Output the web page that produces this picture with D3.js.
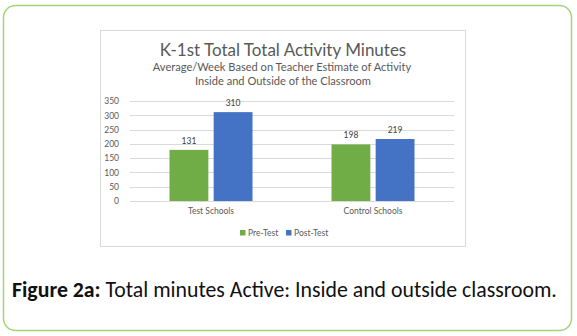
<!DOCTYPE html>
<html><head><meta charset="utf-8">
<script src="https://cdn.jsdelivr.net/npm/d3@7"></script>
<style>body{margin:0;background:#fff}svg{display:block}</style>
</head><body><svg id="c" width="577" height="336"></svg>
<script>
const categories = ["Test Schools", "Control Schools"];
const seriesNames = ["Pre-Test", "Post-Test"];
const preTest = [179, 198];
const postTest = [311, 217];
const preLabels = ["131", "198"];
const postLabels = ["310", "219"];
const yTicks = [0, 50, 100, 150, 200, 250, 300, 350];
const colors = ["#70ad47", "#4472c4"];

const svg = d3.select("#c");
// outer frame
svg.append("rect").attr("x", 3.5).attr("y", 5.5).attr("width", 568).attr("height", 325)
  .attr("rx", 12).attr("fill", "#fff").attr("stroke", "#a5d37c").attr("stroke-width", 1.5);
// chart area box
svg.append("rect").attr("x", 100.5).attr("y", 30.5).attr("width", 365).attr("height", 216)
  .attr("fill", "#fff").attr("stroke", "#d9d9d9").attr("stroke-width", 1);

const font = "Lato, Carlito, 'Noto Sans', sans-serif";
const grey = "#595959";

svg.append("text").attr("x", 283).attr("y", 56).attr("text-anchor", "middle")
  .attr("font-family", font).attr("font-size", 17).attr("fill", grey)
  .text("K-1st Total Total Activity Minutes");
svg.append("text").attr("x", 282).attr("y", 70.5).attr("text-anchor", "middle")
  .attr("font-family", font).attr("font-size", 11.1).attr("fill", grey)
  .text("Average/Week Based on Teacher Estimate of Activity");
svg.append("text").attr("x", 283).attr("y", 85).attr("text-anchor", "middle")
  .attr("font-family", font).attr("font-size", 11.1).attr("fill", grey)
  .text("Inside and Outside of the Classroom");

const y = d3.scaleLinear().domain([0, 350]).range([201, 101]);
const x0 = d3.scaleBand().domain(categories).range([130, 454]);
const x1 = d3.scaleBand().domain(seriesNames).range([0, 83]).paddingInner(0.12);

// grid
svg.append("g").selectAll("line").data(yTicks).join("line")
  .attr("x1", 130).attr("x2", 454)
  .attr("y1", d => Math.round(y(d)) + 0.5).attr("y2", d => Math.round(y(d)) + 0.5)
  .attr("stroke", "#d9d9d9").attr("stroke-width", 1);

// y axis labels
const yAxis = d3.axisLeft(y).tickValues(yTicks).tickSize(0).tickPadding(0);
const ya = svg.append("g").attr("transform", "translate(119,0)").call(yAxis);
ya.select(".domain").remove();
ya.selectAll("text").attr("font-family", font).attr("font-size", 8.5).attr("fill", grey);

// bars
const data = categories.map((c, i) => ({ cat: c, vals: [
  { s: seriesNames[0], v: preTest[i], l: preLabels[i], c: colors[0] },
  { s: seriesNames[1], v: postTest[i], l: postLabels[i], c: colors[1] }] }));

const g = svg.append("g").selectAll("g").data(data).join("g")
  .attr("transform", d => `translate(${x0(d.cat) + (x0.bandwidth() - 83) / 2},0)`);
g.selectAll("rect").data(d => d.vals).join("rect")
  .attr("x", d => x1(d.s)).attr("width", x1.bandwidth())
  .attr("y", d => y(d.v)).attr("height", d => y(0) - y(d.v))
  .attr("fill", d => d.c);
g.selectAll("text").data(d => d.vals).join("text")
  .attr("x", d => x1(d.s) + x1.bandwidth() / 2).attr("y", d => y(d.v) - 6)
  .attr("text-anchor", "middle").attr("font-family", font).attr("font-size", 8.5)
  .attr("fill", "#404040").text(d => d.l);

// x axis labels
const xAxis = d3.axisBottom(x0).tickSize(0).tickPadding(0);
const xa = svg.append("g").attr("transform", "translate(0,208)").call(xAxis);
xa.select(".domain").remove();
xa.selectAll("text").attr("font-family", font).attr("font-size", 8.5).attr("fill", grey);

// legend
const legX = [240, 286];
const leg = svg.append("g").selectAll("g").data(seriesNames).join("g")
  .attr("transform", (d, i) => `translate(${legX[i]},233)`);
leg.append("rect").attr("x", 0).attr("y", -3).attr("width", 5.5).attr("height", 5.5)
  .attr("fill", (d, i) => colors[i]);
leg.append("text").attr("x", 8).attr("y", 3).attr("font-family", font).attr("font-size", 8.5)
  .attr("fill", grey).text(d => d);

// caption
const cap = svg.append("text").attr("x", 12).attr("y", 297)
  .attr("font-family", "Carlito, Lato, 'Open Sans', sans-serif").attr("font-size", 21.8).attr("fill", "#111");
cap.append("tspan").attr("font-weight", "bold").text("Figure 2a:");
cap.append("tspan").text(" Total minutes Active: Inside and outside classroom.");
</script></body></html>
